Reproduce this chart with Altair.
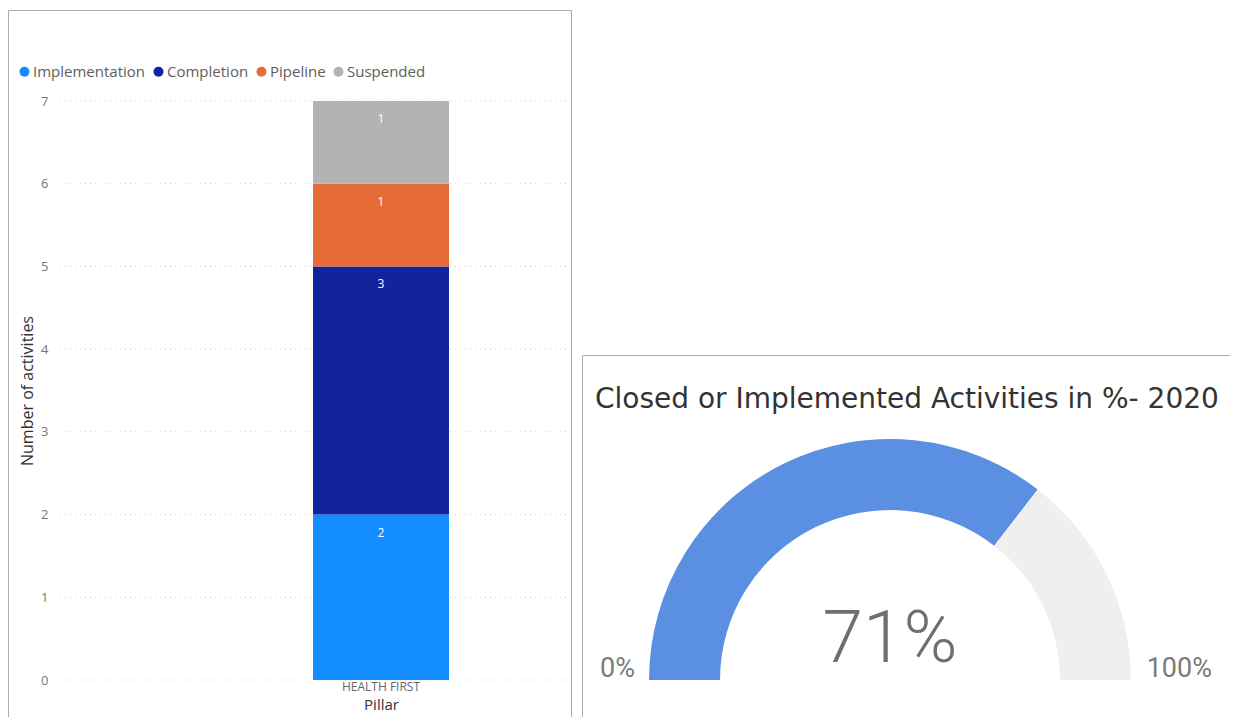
import math
import altair as alt
import pandas as pd

# ---------------- data ----------------
pillars = ["HEALTH FIRST"]
statuses = ["Implementation", "Completion", "Pipeline", "Suspended"]
counts = [2, 3, 1, 1]
status_colors = ["#118DFF", "#12239E", "#E66C37", "#B3B3B3"]
y_ticks = [0, 1, 2, 3, 4, 5, 6, 7]

gauge_value = [0.71]
gauge_min = [0.0]
gauge_max = [1.0]
gauge_title = ["Closed or Implemented Activities in %- 2020"]

x_title = "Pillar"
y_title = "Number of activities"

# ---------------- tables ----------------
tops = pd.Series(counts).cumsum().tolist()
bars = pd.DataFrame({
    "pillar": pillars * len(statuses),
    "status": statuses,
    "count": counts,
    "idx": list(range(len(statuses))),
    "top": tops,
})
grid = pd.DataFrame({"v": y_ticks})
g_done = pd.DataFrame({"start": gauge_min, "end": gauge_value})
g_rest = pd.DataFrame({"start": gauge_value, "end": gauge_max})
g_val = pd.DataFrame({"pct": gauge_value})
g_min = pd.DataFrame({"pct": gauge_min})
g_max = pd.DataFrame({"pct": gauge_max})
g_title = pd.DataFrame({"t": gauge_title})
one = pd.DataFrame({"a": [0]})

UI = "Open Sans"
W, H = 1222, 709

yscale = alt.Scale(domain=[0, 7], range=[672, 93], nice=False, zero=True)
xscale = alt.Scale(domain=pillars, range=[305, 441], paddingInner=0, paddingOuter=0)
tscale = alt.Scale(domain=[0, 1], range=[1.5 * math.pi, 2.5 * math.pi])

xaxis = alt.Axis(title=x_title, orient="bottom", offset=-37, domain=False, ticks=False,
                 tickSize=0, labelPadding=1, labelFont=UI, labelFontSize=12,
                 labelColor="#666666", labelAngle=0, titleFont=UI, titleFontSize=15,
                 titleFontWeight="normal", titleColor="#333333", titlePadding=5, grid=False)
yaxis = alt.Axis(title=y_title, orient="left", offset=-40, values=y_ticks, domain=False,
                 ticks=False, tickSize=0, labelPadding=0, labelFont=UI, labelFontSize=13,
                 labelColor="#777777", titleFont=UI, titleFontSize=16,
                 titleFontWeight="normal", titleColor="#333333", titlePadding=5, grid=False)

# panel borders
border_left = alt.Chart(one).mark_rect(fillOpacity=0, stroke="#ababab", strokeWidth=1).encode(
    x=alt.value(0.5), x2=alt.value(563.5), y=alt.value(2.5), y2=alt.value(800)
)
border_right = alt.Chart(one).mark_rect(fillOpacity=0, stroke="#ababab", strokeWidth=1).encode(
    x=alt.value(574.5), x2=alt.value(1400), y=alt.value(347.5), y2=alt.value(800)
)

gridlines = alt.Chart(grid).mark_rule(stroke="#cfcfcf", strokeWidth=1, strokeDash=[1, 4]).encode(
    y=alt.Y("v:Q", scale=yscale, axis=yaxis),
    x=alt.value(52), x2=alt.value(562),
)

bar_layer = alt.Chart(bars).mark_bar().encode(
    x=alt.X("pillar:N", scale=xscale, sort=pillars, axis=xaxis),
    y=alt.Y("count:Q", stack="zero", scale=yscale, axis=yaxis),
    color=alt.Color("status:N", scale=alt.Scale(domain=statuses, range=status_colors),
                    legend=alt.Legend(title=None, orient="none", legendX=9, legendY=56,
                                      direction="horizontal", symbolType="circle", symbolSize=100,
                                      symbolStrokeWidth=0, labelFont=UI, labelFontSize=15,
                                      labelColor="#605e5c", labelOffset=1, columnPadding=5,
                                      padding=0)),
    order=alt.Order("idx:Q"),
)

bar_labels = alt.Chart(bars).mark_text(color="white", fontSize=12, font=UI, baseline="middle", dy=18).encode(
    x=alt.X("pillar:N", scale=xscale, sort=pillars, axis=xaxis),
    y=alt.Y("top:Q", scale=yscale, axis=yaxis),
    text=alt.Text("count:Q"),
)

arc_done = alt.Chart(g_done).mark_arc(color="#5B8FE2").encode(
    theta=alt.Theta("start:Q", scale=tscale), theta2="end:Q",
    x=alt.value(882), y=alt.value(672), radius=alt.value(241), radius2=alt.value(170),
)
arc_rest = alt.Chart(g_rest).mark_arc(color="#EFEFEF").encode(
    theta=alt.Theta("start:Q", scale=tscale), theta2="end:Q",
    x=alt.value(882), y=alt.value(672), radius=alt.value(241), radius2=alt.value(170),
)

title_txt = alt.Chart(g_title).mark_text(align="left", baseline="alphabetic", font="DejaVu Sans",
                                          fontSize=28, color="#333333").encode(
    x=alt.value(587), y=alt.value(400), text="t:N"
)
val_txt = alt.Chart(g_val).mark_text(align="center", baseline="alphabetic",
                                      font="Roboto", fontWeight=300,
                                      fontSize=73, color="#6f6f6f").encode(
    x=alt.value(882), y=alt.value(654), text=alt.Text("pct:Q", format=".0%")
)
min_txt = alt.Chart(g_min).mark_text(align="left", baseline="alphabetic", font="Roboto",
                                      fontSize=27, color="#7a7a7a").encode(
    x=alt.value(592), y=alt.value(669), text=alt.Text("pct:Q", format=".0%")
)
max_txt = alt.Chart(g_max).mark_text(align="right", baseline="alphabetic", font="Roboto",
                                      fontSize=27, color="#7a7a7a").encode(
    x=alt.value(1204), y=alt.value(669), text=alt.Text("pct:Q", format=".0%")
)

chart = alt.layer(
    border_left, border_right, gridlines, bar_layer, bar_labels,
    arc_done, arc_rest, title_txt, val_txt, min_txt, max_txt,
).properties(
    width=W, height=H, autosize=alt.AutoSizeParams(type="none"), padding=0,
    background="white",
).configure_view(strokeWidth=0)

chart.save("out.html", embed_options={"renderer": "svg", "actions": False})
